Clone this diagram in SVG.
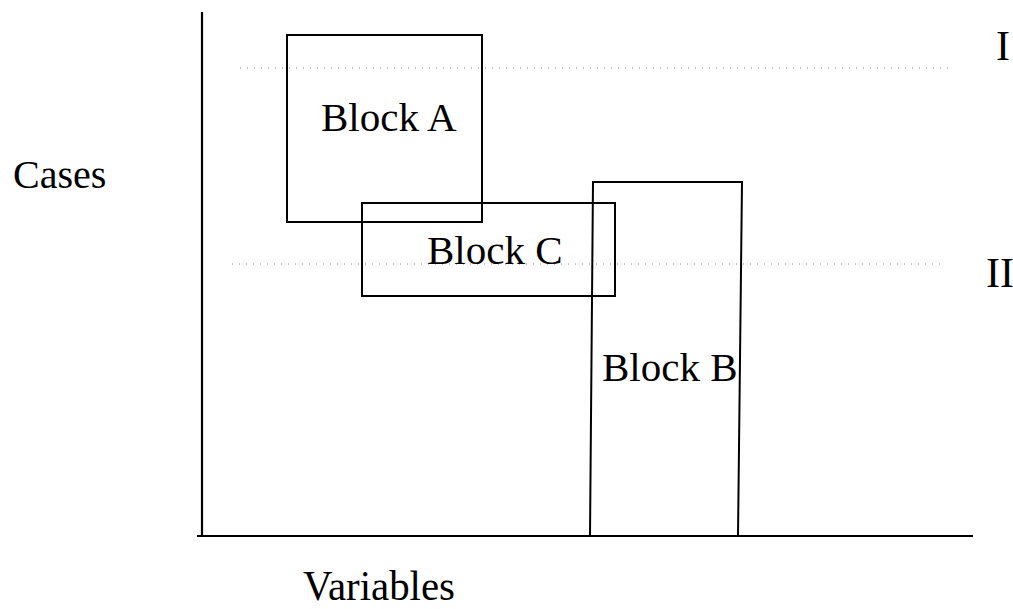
<svg xmlns="http://www.w3.org/2000/svg" width="1013" height="609" viewBox="0 0 1013 609">
<style>
.ax{stroke:#000;stroke-width:2.2;fill:none}
.blk{stroke:#000;stroke-width:2;fill:none}
.dot{stroke:#888;stroke-width:1;stroke-dasharray:1 6;fill:none}
.t{font-family:"Liberation Serif","Times New Roman",serif;fill:#000}
</style>
<rect width="1013" height="609" fill="#fff"/>
<g id="connectors">
<line class="dot" x1="240" y1="68" x2="950" y2="68"/>
<line class="dot" x1="232" y1="264" x2="945" y2="264"/>
</g>
<g id="axes">
<line class="ax" x1="202" y1="12" x2="202" y2="537"/>
<line class="ax" x1="197" y1="536" x2="973" y2="536"/>
</g>
<g id="blockA">
<rect class="blk" x="287" y="35" width="195" height="187"/>
<text class="t" x="321" y="131" font-size="41">Block A</text>
</g>
<g id="blockC">
<rect class="blk" x="362" y="203" width="253" height="93"/>
<text class="t" x="427" y="264" font-size="41">Block C</text>
</g>
<g id="blockB">
<polygon class="blk" points="593,182 742,182 738,536 590,536"/>
<text class="t" x="602" y="381" font-size="41">Block B</text>
</g>
<g id="labels">
<text class="t" x="13" y="188" font-size="40">Cases</text>
<text class="t" x="303" y="600" font-size="42" textLength="152" lengthAdjust="spacingAndGlyphs">Variables</text>
<text class="t" x="996" y="60" font-size="42">I</text>
<text class="t" x="986" y="287" font-size="42">II</text>
</g>
</svg>
